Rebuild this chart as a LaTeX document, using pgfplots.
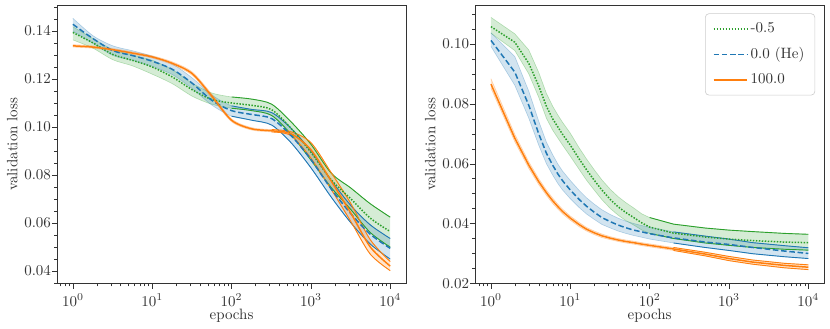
\documentclass[border=0pt]{standalone}
\usepackage{pgfplots}
\pgfplotsset{compat=1.18}
\usepackage{pgfplotstable}
\usepgfplotslibrary{fillbetween}

\definecolor{tabblue}{RGB}{31,119,180}
\definecolor{taborange}{RGB}{255,127,14}
\definecolor{tabgreen}{RGB}{44,160,44}

% columns: epoch, mean, lower, upper
\pgfplotstableread{
e m lo hi
1 0.1394 0.1363 0.1418
1.8 0.1350 0.1328 0.1368
3.2 0.1302 0.1280 0.1322
5.6 0.1278 0.1255 0.1300
10 0.1250 0.1220 0.1278
18 0.1208 0.1180 0.1238
32 0.1155 0.1128 0.1182
56 0.1115 0.1095 0.1142
100 0.1100 0.1078 0.1125
180 0.1090 0.1068 0.1116
320 0.1072 0.1048 0.1095
560 0.0995 0.0970 0.1022
1000 0.0895 0.0862 0.0928
1800 0.0780 0.0748 0.0808
3200 0.0700 0.0655 0.0745
5600 0.0620 0.0560 0.0680
10000 0.0564 0.0499 0.0624
}\LG
\pgfplotstableread{
e m lo hi
1 0.1428 0.1400 0.1453
1.8 0.1368 0.1348 0.1380
3.2 0.1318 0.1298 0.1338
5.6 0.1298 0.1278 0.1318
10 0.1274 0.1253 0.1295
18 0.1240 0.1218 0.1262
32 0.1182 0.1160 0.1204
56 0.1112 0.1092 0.1134
100 0.1068 0.1045 0.1088
180 0.1052 0.1028 0.1073
320 0.1035 0.1008 0.1060
560 0.0965 0.0935 0.0995
1000 0.0865 0.0830 0.0900
1800 0.0742 0.0708 0.0778
3200 0.0638 0.0600 0.0672
5600 0.0553 0.0512 0.0592
10000 0.0494 0.0449 0.0535
}\LB
\pgfplotstableread{
e m lo hi
1 0.1338 0.1333 0.1343
1.8 0.1333 0.1328 0.1338
3.2 0.1322 0.1317 0.1327
5.6 0.1308 0.1303 0.1313
10 0.1292 0.1287 0.1297
18 0.1265 0.1259 0.1271
32 0.1222 0.1215 0.1229
56 0.1130 0.1122 0.1138
100 0.1028 0.1022 0.1034
180 0.0992 0.0987 0.0997
320 0.0984 0.0979 0.0989
560 0.0972 0.0964 0.0980
1000 0.0905 0.0870 0.0935
1800 0.0775 0.0740 0.0810
3200 0.0640 0.0605 0.0680
5600 0.0500 0.0470 0.0530
10000 0.0420 0.0401 0.0439
}\LO

\pgfplotstableread{
e m lo hi
1 0.1058 0.1036 0.1089
2 0.1006 0.0978 0.1034
3 0.0935 0.0900 0.0980
4 0.0860 0.0822 0.0905
5 0.0792 0.0752 0.0835
6 0.0750 0.0712 0.0792
7 0.0722 0.0685 0.0762
8 0.0698 0.0662 0.0738
10 0.0662 0.0625 0.0702
13 0.0615 0.0580 0.0652
16 0.0580 0.0545 0.0616
20 0.0545 0.0512 0.0580
25 0.0512 0.0480 0.0546
32 0.0480 0.0450 0.0514
40 0.0456 0.0428 0.0490
50 0.0437 0.0410 0.0470
63 0.0420 0.0395 0.0452
80 0.0402 0.0378 0.0432
100 0.0388 0.0367 0.0420
200 0.0368 0.0350 0.0398
500 0.0355 0.0335 0.0385
1000 0.0348 0.0327 0.0378
2000 0.0343 0.0320 0.0373
5000 0.0338 0.0314 0.0367
10000 0.0336 0.0311 0.0364
}\RG
\pgfplotstableread{
e m lo hi
1 0.1012 0.0992 0.1038
2 0.0906 0.0862 0.0958
3 0.0795 0.0752 0.0842
4 0.0700 0.0662 0.0742
5 0.0635 0.0600 0.0672
6 0.0595 0.0562 0.0630
7 0.0565 0.0533 0.0598
8 0.0543 0.0512 0.0575
10 0.0512 0.0483 0.0544
13 0.0480 0.0453 0.0510
16 0.0458 0.0432 0.0486
20 0.0438 0.0414 0.0465
25 0.0420 0.0397 0.0446
32 0.0406 0.0385 0.0430
40 0.0395 0.0375 0.0418
50 0.0386 0.0367 0.0408
63 0.0378 0.0360 0.0400
80 0.0372 0.0354 0.0393
100 0.0366 0.0348 0.0388
200 0.0352 0.0335 0.0372
500 0.0338 0.0320 0.0358
1000 0.0330 0.0310 0.0348
2000 0.0320 0.0299 0.0336
5000 0.0308 0.0289 0.0326
10000 0.0300 0.0283 0.0319
}\RB
\pgfplotstableread{
e m lo hi
1 0.0866 0.0852 0.0884
2 0.0685 0.0673 0.0698
3 0.0595 0.0584 0.0606
4 0.0540 0.0530 0.0550
5 0.0503 0.0494 0.0512
6 0.0476 0.0467 0.0485
7 0.0456 0.0448 0.0464
8 0.0440 0.0432 0.0448
10 0.0418 0.0411 0.0425
13 0.0396 0.0389 0.0403
16 0.0381 0.0375 0.0387
20 0.0369 0.0363 0.0375
25 0.0359 0.0353 0.0365
32 0.0351 0.0346 0.0356
40 0.0345 0.0340 0.0350
50 0.0340 0.0335 0.0345
63 0.0336 0.0331 0.0341
80 0.0331 0.0326 0.0336
100 0.0327 0.0322 0.0332
200 0.0315 0.0310 0.0320
500 0.0298 0.0292 0.0304
1000 0.0283 0.0276 0.0290
2000 0.0271 0.0264 0.0278
5000 0.0260 0.0252 0.0267
10000 0.0254 0.0246 0.0262
}\RO

% band: colour, table, first index with solid edge lines, plot handler, path name
\newcommand{\band}[5]{%
  \addplot[name path=#5up, #1, opacity=0.3, line width=0.4pt, forget plot, #4] table[x=e, y=hi]{#2};
  \addplot[name path=#5dn, #1, opacity=0.3, line width=0.4pt, forget plot, #4] table[x=e, y=lo]{#2};
  \addplot[fill=#1, fill opacity=0.2, draw=none, forget plot] fill between[of=#5up and #5dn];
  \addplot[#1, line width=0.6pt, forget plot, #4, skip coords between index={0}{#3}] table[x=e, y=hi]{#2};
  \addplot[#1, line width=0.6pt, forget plot, #4, skip coords between index={0}{#3}] table[x=e, y=lo]{#2};
}

\pgfplotsset{
  every tick label/.append style={text=black!80},
  every axis label/.append style={text=black!80},
}

\begin{document}
\begin{tikzpicture}

\begin{axis}[
  at={(0,0)}, anchor=south west,
  scale only axis, width=232.7pt, height=185.5pt,
  xmode=log, xmin=0.631, xmax=15849,
  ymin=0.0348, ymax=0.1508,
  xlabel={epochs}, ylabel={validation loss},
  xlabel shift=-5pt,
  ylabel style={at={(axis description cs:-0.098,0.5)}, anchor=south},
  axis line style={black!80}, tick style={black!80},
  tick align=outside, xtick pos=bottom, ytick pos=left,
  major tick length=3.5pt, minor tick length=2pt,
  minor y tick num=3,
  scaled y ticks=false,
  yticklabel style={xshift=3pt, /pgf/number format/fixed,
    /pgf/number format/fixed zerofill, /pgf/number format/precision=2},
]
  \band{tabgreen}{\LG}{8}{smooth}{lg}
  \band{tabblue}{\LB}{8}{smooth}{lb}
  \band{taborange}{\LO}{10}{smooth}{lo}
  \addplot[tabgreen, line width=1pt, smooth, dash pattern=on 1pt off 1pt, forget plot] table[x=e, y=m]{\LG};
  \addplot[tabblue, line width=1pt, smooth, dash pattern=on 3.7pt off 1.8pt, forget plot] table[x=e, y=m]{\LB};
  \addplot[taborange, line width=1pt, smooth, forget plot] table[x=e, y=m]{\LO};
\end{axis}

\begin{axis}[
  at={(278.7pt,0)}, anchor=south west,
  scale only axis, width=232.7pt, height=185.5pt,
  xmode=log, xmin=0.631, xmax=15849,
  ymin=0.02, ymax=0.113,
  xlabel={epochs}, ylabel={validation loss},
  xlabel shift=-5pt,
  ylabel style={at={(axis description cs:-0.098,0.5)}, anchor=south},
  axis line style={black!80}, tick style={black!80},
  tick align=outside, xtick pos=bottom, ytick pos=left,
  major tick length=3.5pt, minor tick length=2pt,
  minor y tick num=3,
  scaled y ticks=false,
  yticklabel style={xshift=3pt, /pgf/number format/fixed,
    /pgf/number format/fixed zerofill, /pgf/number format/precision=2},
  legend style={at={(1,1)}, anchor=north east, xshift=-6pt, yshift=-5.5pt,
    draw=black!20, rounded corners=2.5pt, fill=white, text=black!80,
    row sep=4.5pt, inner xsep=5pt, inner ysep=4pt},
  legend cell align=left,
  legend image code/.code={\draw[mark repeat=2,mark phase=2] plot coordinates {(0cm,0cm) (0.39cm,0cm) (0.78cm,0cm)};},
]
  \band{tabgreen}{\RG}{18}{sharp plot}{rg}
  \band{tabblue}{\RB}{19}{sharp plot}{rb}
  \band{taborange}{\RO}{19}{sharp plot}{ro}
  \addplot[tabgreen, line width=1pt, dash pattern=on 1pt off 1pt] table[x=e, y=m]{\RG};
  \addlegendentry{-0.5}
  \addplot[tabblue, line width=1pt, dash pattern=on 3.7pt off 1.8pt] table[x=e, y=m]{\RB};
  \addlegendentry{0.0 (He)}
  \addplot[taborange, line width=1pt] table[x=e, y=m]{\RO};
  \addlegendentry{100.0}
\end{axis}

\pgfresetboundingbox
\path[use as bounding box] (-38pt,-29.8pt) rectangle (515.3pt,188.9pt);
\end{tikzpicture}
\end{document}
